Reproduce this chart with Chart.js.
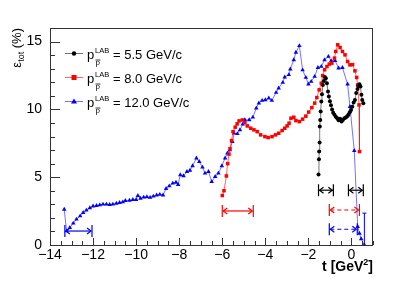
<!DOCTYPE html>
<html>
<head>
<meta charset="utf-8">
<script src="https://cdn.jsdelivr.net/npm/chart.js@4"></script>
<style>
  body { margin: 0; background: #fff; }
  #canvas { display: block; }
</style>
</head>
<body>
<canvas id="canvas" width="415" height="282" style="width:415px;height:282px"></canvas>
<script>
// p = 5.5 GeV/c (black)
const blackT = [-1.53, -1.51, -1.5, -1.48, -1.47, -1.45, -1.43, -1.4, -1.37, -1.33, -1.28, -1.24, -1.19, -1.14, -1.09, -1.05, -1.0, -0.95, -0.9, -0.85, -0.79, -0.73, -0.66, -0.6, -0.53, -0.46, -0.4, -0.33, -0.26, -0.2, -0.14, -0.08, -0.02, 0.04, 0.1, 0.16, 0.22, 0.28, 0.32, 0.37, 0.42, 0.46, 0.5, 0.55];
const blackEff = [5.2, 6.32, 6.9, 7.55, 8.73, 9.22, 9.84, 10.58, 11.12, 11.8, 12.1, 12.38, 12.3, 11.93, 11.31, 10.95, 10.6, 10.3, 10.0, 9.75, 9.6, 9.45, 9.35, 9.2, 9.3, 9.1, 9.22, 9.35, 9.4, 9.5, 9.6, 9.79, 9.95, 10.2, 10.5, 10.7, 11.2, 11.5, 11.75, 11.85, 11.68, 11.07, 10.7, 10.46];

// p = 8.0 GeV/c (red)
const redT = [-6.0, -5.92, -5.81, -5.75, -5.69, -5.64, -5.57, -5.5, -5.4, -5.31, -5.22, -5.07, -4.95, -4.84, -4.68, -4.53, -4.38, -4.22, -4.02, -3.87, -3.69, -3.53, -3.38, -3.22, -3.1, -2.99, -2.9, -2.81, -2.68, -2.58, -2.42, -2.27, -2.12, -1.99, -1.84, -1.71, -1.61, -1.5, -1.4, -1.34, -1.25, -1.14, -1.03, -0.91, -0.79, -0.73, -0.64, -0.53, -0.42, -0.3, -0.18, -0.07, 0.05, 0.16, 0.24, 0.29, 0.35, 0.37];
const redEff = [3.65, 4.0, 5.09, 6.0, 6.7, 7.1, 7.7, 8.36, 8.69, 8.93, 9.15, 9.22, 9.03, 8.78, 8.61, 8.49, 8.36, 8.12, 7.99, 7.92, 7.99, 8.12, 8.24, 8.44, 8.61, 8.78, 8.98, 9.35, 9.42, 9.17, 9.1, 9.28, 9.5, 9.8, 10.13, 10.46, 10.87, 11.44, 11.93, 12.49, 12.92, 13.16, 13.34, 13.41, 13.78, 14.27, 14.76, 14.56, 14.27, 14.02, 13.53, 13.28, 13.3, 12.84, 12.35, 11.8, 10.33, 6.89];

// p = 12.0 GeV/c (blue)
const blueT = [-13.34, -13.23, -13.08, -12.92, -12.77, -12.6, -12.46, -12.31, -12.15, -12.0, -11.84, -11.69, -11.54, -11.38, -11.23, -11.08, -10.92, -10.77, -10.62, -10.5, -10.31, -10.15, -10.0, -9.92, -9.8, -9.65, -9.5, -9.35, -9.2, -9.05, -8.9, -8.75, -8.61, -8.46, -8.3, -8.15, -8.05, -7.95, -7.8, -7.64, -7.5, -7.38, -7.2, -7.07, -6.92, -6.8, -6.64, -6.49, -6.33, -6.18, -6.02, -5.87, -5.76, -5.65, -5.53, -5.45, -5.3, -5.18, -5.05, -4.95, -4.75, -4.58, -4.42, -4.3, -4.15, -4.0, -3.84, -3.7, -3.5, -3.38, -3.19, -3.1, -2.91, -2.84, -2.68, -2.58, -2.42, -2.27, -2.12, -2.0, -1.87, -1.71, -1.56, -1.4, -1.25, -1.07, -0.94, -0.76, -0.6, -0.42, -0.18, -0.07, 0.13, 0.29, 0.37, 0.45, 0.6];
const blueEff = [2.63, 1.03, 1.28, 1.6, 1.9, 2.14, 2.38, 2.56, 2.73, 2.86, 2.9, 2.95, 3.0, 3.0, 2.98, 3.0, 3.07, 3.12, 3.17, 3.27, 3.29, 3.34, 3.34, 3.64, 3.44, 3.52, 3.55, 3.5, 3.59, 3.68, 3.72, 3.68, 4.16, 4.35, 4.55, 4.62, 4.45, 5.17, 5.1, 5.41, 5.5, 5.83, 6.4, 6.15, 5.73, 5.29, 5.41, 4.67, 5.04, 5.29, 5.83, 6.4, 6.77, 7.0, 7.62, 8.24, 8.2, 8.49, 8.9, 9.22, 9.22, 9.42, 10.09, 10.46, 10.65, 10.7, 10.83, 10.65, 11.24, 11.56, 11.98, 12.38, 12.55, 12.97, 13.65, 14.2, 14.69, 12.9, 12.35, 11.86, 12.05, 12.42, 13.08, 13.16, 13.65, 13.9, 13.58, 13.58, 13.04, 13.08, 11.86, 10.2, 6.96, 1.35, 0.86, 0.45, 0.0];

// t ranges marked with arrows (start, end, level)
const rangeStart = [-13.31, -6.0, -1.53, -0.14, -1.03, -1.03];
const rangeEnd   = [-12.05, -4.56, -0.84, 0.55, 0.37, 0.27];
const rangeLevel = [1.03, 2.51, 4.04, 4.04, 2.58, 1.16];
const rangeColor = ['blue', 'red', 'black', 'black', 'red', 'blue'];
const rangeDashed = [false, false, false, false, true, true];

// blue error bar on last point
const errT = 0.6;
const errLow = 0.0;
const errHigh = 2.35;

const legendLabels = ['5.5 GeV/c', '8.0 GeV/c', '12.0 GeV/c'];
const xTicks = [-14, -12, -10, -8, -6, -4, -2, 0];
const yTicks = [0, 5, 10, 15];

const FONT = "'Liberation Sans', Arial, Helvetica, sans-serif";

function toPoints(xs, ys) {
    return xs.map((x, i) => ({ x: x, y: ys[i] }));
}

function fmtMinus(v) {
    return v < 0 ? '\u2212' + Math.abs(v) : String(v);
}

function arrow(ctx, x0, x1, y, color, dashed) {
    ctx.save();
    ctx.strokeStyle = color;
    ctx.lineWidth = 1.2;
    // end bars
    ctx.beginPath();
    ctx.moveTo(x0, y - 6); ctx.lineTo(x0, y + 6);
    ctx.moveTo(x1, y - 6); ctx.lineTo(x1, y + 6);
    ctx.stroke();
    // shaft
    if (dashed) ctx.setLineDash([4, 3]);
    ctx.beginPath();
    ctx.moveTo(x0 + 1, y); ctx.lineTo(x1 - 1, y);
    ctx.stroke();
    ctx.setLineDash([]);
    // heads
    ctx.beginPath();
    ctx.moveTo(x0 + 5, y - 3); ctx.lineTo(x0 + 1, y); ctx.lineTo(x0 + 5, y + 3);
    ctx.moveTo(x1 - 5, y - 3); ctx.lineTo(x1 - 1, y); ctx.lineTo(x1 - 5, y + 3);
    ctx.stroke();
    ctx.restore();
}

const decorPlugin = {
    id: 'decor',
    afterDatasetsDraw(chart) {
        const ctx = chart.ctx;
        const xs = chart.scales.x, ys = chart.scales.y;
        const a = chart.chartArea;

        // frame
        ctx.save();
        ctx.strokeStyle = '#333';
        ctx.lineWidth = 1;
        ctx.strokeRect(a.left + 0.5, a.top + 0.5, a.right - a.left - 1, a.bottom - a.top);

        // inner ticks
        ctx.beginPath();
        for (let v = 0; v <= 16; v += 1) {
            const py = Math.round(ys.getPixelForValue(v)) + 0.5;
            const len = (v % 5 === 0) ? 10 : 5;
            ctx.moveTo(a.left, py); ctx.lineTo(a.left + len, py);
        }
        for (let v = -14; v <= 1; v += 0.5) {
            const px = Math.round(xs.getPixelForValue(v)) + 0.5;
            const len = (v % 2 === 0) ? 7 : 4;
            ctx.moveTo(px, a.bottom); ctx.lineTo(px, a.bottom - len);
        }
        ctx.stroke();
        ctx.restore();

        // range arrows
        for (let i = 0; i < rangeStart.length; i++) {
            arrow(ctx, xs.getPixelForValue(rangeStart[i]), xs.getPixelForValue(rangeEnd[i]),
                ys.getPixelForValue(rangeLevel[i]), rangeColor[i], rangeDashed[i]);
        }

        // error bar
        ctx.save();
        ctx.strokeStyle = 'blue';
        ctx.lineWidth = 1;
        const ex = xs.getPixelForValue(errT);
        const ey0 = ys.getPixelForValue(errLow), ey1 = ys.getPixelForValue(errHigh);
        ctx.beginPath();
        ctx.moveTo(ex, ey0); ctx.lineTo(ex, ey1);
        ctx.moveTo(ex - 2, ey1); ctx.lineTo(ex + 2, ey1);
        ctx.stroke();
        ctx.restore();

        // legend
        const ds = chart.data.datasets;
        ctx.save();
        ctx.textBaseline = 'alphabetic';
        for (let i = 0; i < 3; i++) {
            const cy = 53.5 + i * 24;
            const d = ds[i];
            ctx.strokeStyle = d.borderColor;
            ctx.lineWidth = 1;
            ctx.beginPath();
            ctx.moveTo(65, cy); ctx.lineTo(83, cy);
            ctx.stroke();
            ctx.fillStyle = d.pointBackgroundColor;
            ctx.beginPath();
            if (i === 0) {
                ctx.arc(74, cy, 2.2, 0, Math.PI * 2);
            } else if (i === 1) {
                ctx.rect(71.5, cy - 2.5, 5, 5);
            } else {
                ctx.moveTo(74, cy - 3); ctx.lineTo(77, cy + 2); ctx.lineTo(71, cy + 2); ctx.closePath();
            }
            ctx.fill();
            ctx.fillStyle = '#000';
            ctx.font = '13px ' + FONT;
            ctx.fillText('p', 87, cy + 5);
            ctx.font = '7.5px ' + FONT;
            ctx.fillText('LAB', 95, cy - 1);
            ctx.font = '8px ' + FONT;
            ctx.fillText('p', 95.5, cy + 11);
            ctx.beginPath();
            ctx.lineWidth = 0.8;
            ctx.strokeStyle = '#000';
            ctx.moveTo(95.5, cy + 6.5); ctx.lineTo(100.5, cy + 6.5);
            ctx.stroke();
            ctx.font = '13px ' + FONT;
            ctx.fillText('= ' + legendLabels[i], 113, cy + 5);
        }
        ctx.restore();

        // x title
        ctx.save();
        ctx.fillStyle = '#000';
        ctx.font = 'bold 14px ' + FONT;
        ctx.textAlign = 'left';
        const t1 = 't [GeV', t3 = ']';
        ctx.font = 'bold 14px ' + FONT;
        const w1 = ctx.measureText(t1).width, w3 = ctx.measureText(t3).width;
        ctx.font = 'bold 9px ' + FONT;
        const w2 = ctx.measureText('2').width;
        let x = a.right - (w1 + w2 + w3);
        ctx.font = 'bold 14px ' + FONT;
        ctx.fillText(t1, x, 271);
        ctx.font = 'bold 9px ' + FONT;
        ctx.fillText('2', x + w1, 265);
        ctx.font = 'bold 14px ' + FONT;
        ctx.fillText(t3, x + w1 + w2, 271);
        ctx.restore();

        // y title
        ctx.save();
        ctx.fillStyle = '#000';
        ctx.translate(21, a.top);
        ctx.rotate(-Math.PI / 2);
        ctx.font = '13px ' + FONT;
        const we = ctx.measureText('\u03b5').width;
        const wp = ctx.measureText(' (%)').width;
        ctx.font = '9px ' + FONT;
        const wt = ctx.measureText('tot').width;
        let sx = -(we + wt + wp);
        ctx.font = '13px ' + FONT;
        ctx.fillText('\u03b5', sx, 0);
        ctx.font = '9px ' + FONT;
        ctx.fillText('tot', sx + we, 3);
        ctx.font = '13px ' + FONT;
        ctx.fillText(' (%)', sx + we + wt, 0);
        ctx.restore();
    }
};

function makeSet(label, xs, ys, color, lineColor, style, radius) {
    return {
        label: label,
        data: toPoints(xs, ys),
        showLine: true,
        borderColor: lineColor,
        borderWidth: 1,
        pointBackgroundColor: color,
        pointBorderColor: color,
        pointBorderWidth: 0,
        pointStyle: style,
        pointRadius: radius,
        tension: 0
    };
}

const ctx = document.getElementById('canvas').getContext('2d');
const chart = new Chart(ctx, {
    type: 'scatter',
    data: {
        datasets: [
            makeSet('5.5', blackT, blackEff, '#000', 'rgba(0,0,0,0.55)', 'circle', 2),
            makeSet('8.0', redT, redEff, '#ff0000', 'rgba(255,0,0,0.6)', 'rect', 2.5),
            makeSet('12.0', blueT, blueEff, '#0000ff', 'rgba(0,0,255,0.55)', 'triangle', 2.6)
        ]
    },
    options: {
        responsive: false,
        animation: false,
        devicePixelRatio: 1,
        layout: { padding: { top: 28, right: 42, left: 0, bottom: 0 } },
        plugins: {
            legend: { display: false },
            tooltip: { enabled: false }
        },
        scales: {
            x: {
                type: 'linear',
                min: -14,
                max: 1,
                afterBuildTicks: s => { s.ticks = xTicks.map(v => ({ value: v })); },
                afterFit: s => { s.height = 37; },
                grid: { display: false, drawTicks: false },
                border: { display: false },
                ticks: {
                    callback: v => fmtMinus(v),
                    color: '#000',
                    padding: 2,
                    maxRotation: 0,
                    autoSkip: false,
                    font: { size: 14, family: FONT }
                }
            },
            y: {
                min: 0,
                max: 16,
                afterBuildTicks: s => { s.ticks = yTicks.map(v => ({ value: v })); },
                afterFit: s => { s.width = 50; },
                grid: { display: false, drawTicks: false },
                border: { display: false },
                ticks: {
                    color: '#000',
                    padding: 8,
                    autoSkip: false,
                    font: { size: 14, family: FONT }
                }
            }
        }
    },
    plugins: [decorPlugin]
});
</script>
</body>
</html>
